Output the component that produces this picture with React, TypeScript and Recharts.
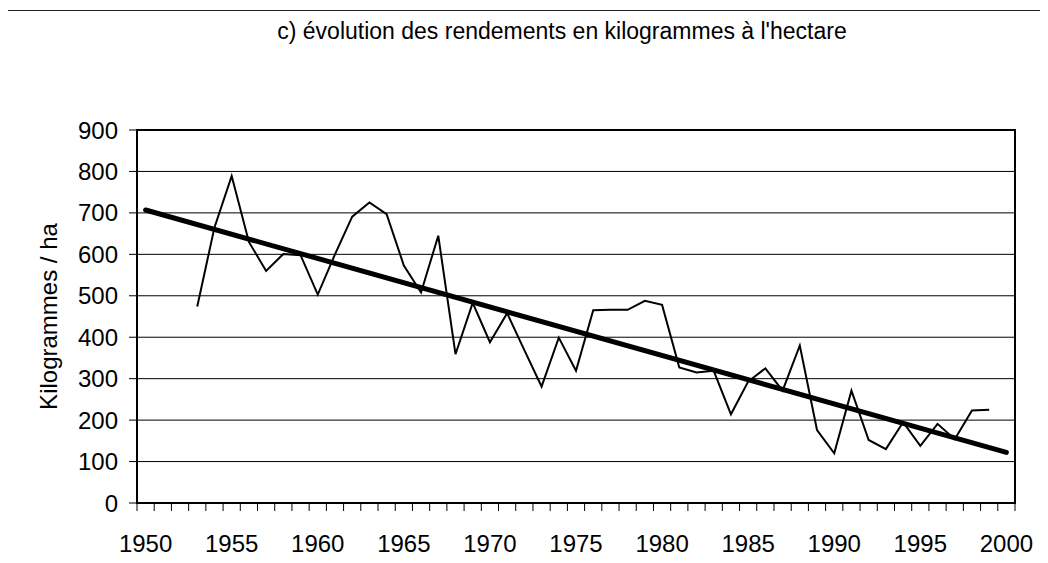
import React from "react";
import {
  LineChart,
  Line,
  XAxis,
  YAxis,
  CartesianGrid,
  ReferenceArea,
} from "recharts";

// rendement annuel (kg/ha); rien avant 1953
const FIRST_YEAR = 1950;
const LAST_YEAR = 2000;
const YIELD_START = 1953;
const YIELDS = [
  474, 665, 789, 630, 560, 601, 598, 503, 600, 691, // 1953-1962
  725, 697, 573, 508, 645, 359, 483, 388, 458, 369, // 1963-1972
  281, 399, 319, 465, 466, 466, 488, 478, 327, 315, // 1973-1982
  319, 214, 293, 325, 271, 380, 176, 120, 271, 152, // 1983-1992
  130, 195, 138, 191, 154, 223, 225, // 1993-1999
];
// droite de tendance : valeurs aux deux extrémités
const TREND_START = 707;
const TREND_END = 122;

const Y_TICKS = [0, 100, 200, 300, 400, 500, 600, 700, 800, 900];
const X_LABELS = [1950, 1955, 1960, 1965, 1970, 1975, 1980, 1985, 1990, 1995, 2000];

const YEARS = Array.from({ length: LAST_YEAR - FIRST_YEAR + 1 }, (_, i) => FIRST_YEAR + i);
const BOUNDARIES = [...YEARS.map((y) => y - 0.5), LAST_YEAR + 0.5];

const data = YEARS.map((year) => {
  const idx = year - YIELD_START;
  return {
    year,
    rendement: idx >= 0 && idx < YIELDS.length ? YIELDS[idx] : null,
    trend: year === FIRST_YEAR ? TREND_START : year === LAST_YEAR ? TREND_END : null,
  };
});

const FONT = "'Liberation Sans', Arial, sans-serif";
const DOMAIN: [number, number] = [FIRST_YEAR - 0.5, LAST_YEAR + 0.5];

const YLabel = (props: any) => {
  const vb = props.viewBox || { x: 0, y: 0, width: 0, height: 0 };
  const cx = vb.x + 48;
  const cy = vb.y + vb.height / 2;
  return (
    <text
      x={cx}
      y={cy}
      transform={`rotate(-90, ${cx}, ${cy})`}
      textAnchor="middle"
      dominantBaseline="central"
      fontSize={24}
      fontFamily={FONT}
      fill="#000"
    >
      Kilogrammes / ha
    </text>
  );
};

export default function App() {
  return (
    <div
      style={{
        margin: -8,
        position: "relative",
        width: 1048,
        height: 563,
        overflow: "hidden",
        background: "#fff",
        fontFamily: FONT,
      }}
    >
      <div
        style={{
          position: "absolute",
          left: 7,
          top: 10,
          width: 1100,
          height: 600,
          borderLeft: "1px solid #222",
          borderTop: "1px solid #222",
        }}
      />
      <div
        style={{
          position: "absolute",
          left: 0,
          top: 20,
          width: 1124,
          textAlign: "center",
          fontSize: 23,
          lineHeight: "23px",
          color: "#000",
          whiteSpace: "nowrap",
        }}
      >
        c) évolution des rendements en kilogrammes à l'hectare
      </div>
      <div style={{ position: "absolute", left: 0, top: 0 }}>
        <LineChart
          width={1048}
          height={563}
          data={data}
          margin={{ top: 130, right: 33, bottom: 0, left: 0 }}
        >
          <CartesianGrid vertical={false} stroke="#000" strokeWidth={1} xAxisId="a0" />
          <XAxis
            xAxisId="a0"
            dataKey="year"
            type="number"
            domain={DOMAIN}
            ticks={BOUNDARIES}
            interval={0}
            tickFormatter={() => ""}
            tickSize={8}
            height={10}
            axisLine={{ stroke: "#000", strokeWidth: 2 }}
            tickLine={{ stroke: "#000", strokeWidth: 1 }}
          />
          <XAxis
            xAxisId="a1"
            dataKey="year"
            type="number"
            domain={DOMAIN}
            ticks={X_LABELS}
            interval={0}
            axisLine={false}
            tickLine={false}
            tickSize={0}
            tickMargin={22}
            height={50}
            tick={{ fontSize: 24, fontFamily: FONT, fill: "#000" }}
          />
          <YAxis
            domain={[0, 900]}
            ticks={Y_TICKS}
            interval={0}
            width={137}
            tickSize={8}
            tickMargin={11}
            axisLine={{ stroke: "#000", strokeWidth: 2 }}
            tickLine={{ stroke: "#000", strokeWidth: 1 }}
            tick={{ fontSize: 24, fontFamily: FONT, fill: "#000" }}
            label={<YLabel />}
          />
          <ReferenceArea
            xAxisId="a0"
            x1={DOMAIN[0]}
            x2={DOMAIN[1]}
            y1={0}
            y2={900}
            fill="none"
            fillOpacity={0}
            stroke="#000"
            strokeWidth={2}
            ifOverflow="visible"
          />
          <Line
            xAxisId="a0"
            dataKey="rendement"
            type="linear"
            stroke="#000"
            strokeWidth={2}
            dot={false}
            activeDot={false}
            connectNulls={false}
            isAnimationActive={false}
          />
          <Line
            xAxisId="a0"
            dataKey="trend"
            type="linear"
            stroke="#000"
            strokeWidth={5}
            strokeLinecap="round"
            dot={false}
            activeDot={false}
            connectNulls
            isAnimationActive={false}
          />
        </LineChart>
      </div>
    </div>
  );
}
